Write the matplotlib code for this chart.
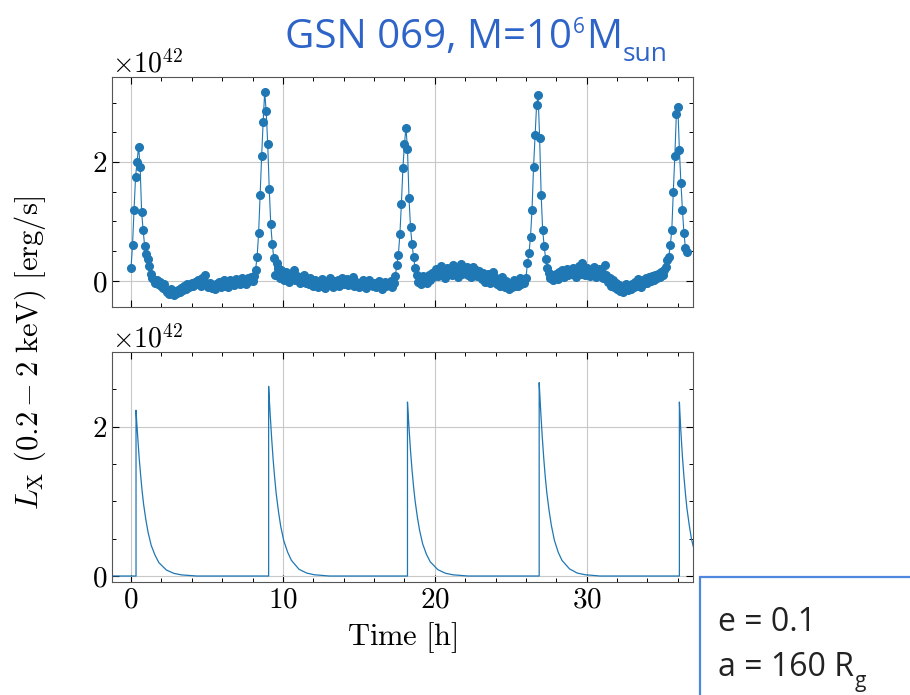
import numpy as np
import matplotlib
matplotlib.use("Agg")
import matplotlib.pyplot as plt
from matplotlib.patches import Rectangle
from matplotlib.ticker import MultipleLocator

plt.rcParams['font.family'] = 'serif'
plt.rcParams['font.serif'] = ['cmr10', 'DejaVu Serif']
plt.rcParams['mathtext.fontset'] = 'cm'
plt.rcParams['axes.formatter.use_mathtext'] = True
plt.rcParams['axes.unicode_minus'] = False

# observed light curve, 0.1 h cadence starting at t = 0 (units of 1e42 erg/s)
obs_cadence = 0.1
lx_obs = [
    0.22, 0.60, 1.20, 1.75, 2.00, 2.26, 1.92, 1.15, 0.85, 0.58,
    0.45, 0.36, 0.25, 0.11, 0.05, 0.02, -0.03, 0.01, -0.06, -0.02,
    -0.08, -0.12, -0.05, -0.15, -0.18, -0.22, -0.14, -0.20, -0.24, -0.17,
    -0.21, -0.15, -0.19, -0.12, -0.16, -0.08, -0.13, -0.05, -0.10, -0.07,
    -0.03, -0.09, -0.02, -0.06, 0.02, -0.04, -0.08, 0.04, -0.01, 0.10,
    -0.06, -0.10, -0.03, -0.12, -0.07, -0.14, -0.05, -0.09, -0.02, -0.11,
    -0.04, 0.01, -0.08, -0.03, -0.10, 0.02, -0.06, -0.01, -0.07, 0.03,
    -0.04, 0.00, -0.06, 0.05, -0.02, 0.02, -0.05, 0.04, -0.01, 0.06,
    0.00, 0.08, 0.19, 0.40, 0.80, 1.45, 2.10, 2.68, 3.18, 2.85,
    2.30, 1.55, 0.95, 0.62, 0.38, 0.10, 0.30, 0.22, 0.05, 0.18,
    0.12, 0.02, 0.15, 0.06, -0.02, 0.10, 0.04, 0.19, 0.01, 0.08,
    0.03, -0.04, 0.06, 0.00, 0.09, -0.03, 0.02, -0.06, 0.05, -0.02,
    -0.08, 0.01, -0.05, -0.11, -0.03, -0.09, 0.03, -0.06, -0.12, -0.02,
    -0.07, 0.04, -0.04, -0.10, 0.00, -0.06, 0.02, -0.08, -0.03, 0.05,
    -0.05, -0.01, 0.03, -0.07, 0.00, -0.04, 0.06, -0.09, -0.02, -0.06,
    -0.10, -0.03, -0.08, 0.01, -0.05, -0.12, -0.04, 0.02, -0.07, -0.09,
    -0.03, -0.11, -0.06, -0.01, -0.08, -0.13, -0.05, -0.02, -0.09, -0.04,
    -0.07, 0.00, -0.10, -0.04, 0.08, 0.27, 0.44, 0.78, 1.30, 1.90,
    2.30, 2.58, 2.22, 1.40, 0.90, 0.62, 0.40, 0.22, 0.10, -0.02,
    0.04, -0.05, 0.08, 0.00, 0.05, -0.03, 0.10, 0.02, 0.14, 0.06,
    0.12, 0.20, 0.08, 0.16, 0.25, 0.10, 0.18, 0.05, 0.22, 0.13,
    0.19, 0.09, 0.26, 0.14, 0.21, 0.07, 0.17, 0.28, 0.12, 0.20,
    0.15, 0.23, 0.10, 0.18, 0.06, 0.24, 0.13, 0.19, 0.08, 0.16,
    0.11, 0.03, 0.14, -0.02, 0.07, 0.12, -0.04, 0.05, 0.15, -0.01,
    0.04, -0.06, 0.02, -0.09, 0.06, -0.03, -0.11, 0.00, -0.07, -0.13,
    -0.05, -0.10, 0.02, -0.08, -0.03, -0.09, 0.04, -0.06, 0.01, -0.04,
    0.05, 0.30, 0.47, 0.74, 1.20, 1.92, 2.45, 2.96, 3.12, 2.40,
    1.45, 0.85, 0.58, 0.36, 0.22, 0.14, 0.05, 0.10, 0.02, 0.08,
    0.12, 0.03, 0.15, 0.08, 0.18, 0.06, 0.13, 0.20, 0.09, 0.16,
    0.11, 0.22, 0.14, 0.07, 0.19, 0.25, 0.12, 0.30, 0.17, 0.10,
    0.21, 0.14, 0.08, 0.18, 0.11, 0.24, 0.06, 0.15, 0.20, 0.09,
    0.13, 0.04, 0.27, 0.10, -0.02, 0.05, -0.08, 0.02, -0.11, -0.04,
    -0.13, -0.07, -0.17, -0.10, -0.19, -0.12, -0.05, -0.15, -0.09, -0.14,
    -0.06, -0.11, -0.02, -0.08, 0.03, -0.05, -0.10, 0.01, -0.04, 0.05,
    -0.03, 0.06, -0.01, 0.08, 0.02, 0.10, 0.04, 0.12, 0.07, 0.15,
    0.10, 0.18, 0.24, 0.35, 0.40, 0.60, 0.85, 1.50, 2.10, 2.80,
    2.92, 2.20, 1.65, 1.20, 0.80, 0.55, 0.49,
]
time_obs = np.arange(len(lx_obs)) * obs_cadence

# model flares: onset time [h] and decay profile
flare_onsets = [0.33, 9.06, 18.2, 26.87, 36.1]
decay_dt = [0, 0.05, 0.1, 0.2, 0.3, 0.4, 0.5, 0.65, 0.8, 1.0, 1.25, 1.5, 2.0, 2.5, 3.0, 4.0]
flare_decays = [
    [2.22, 2.05, 1.90, 1.60, 1.36, 1.14, 0.96, 0.75, 0.58, 0.41, 0.28, 0.18, 0.08, 0.035, 0.015, 0.0],
    [2.54, 2.35, 2.17, 1.84, 1.55, 1.31, 1.10, 0.86, 0.66, 0.47, 0.32, 0.21, 0.09, 0.04, 0.017, 0.0],
    [2.33, 2.15, 1.99, 1.68, 1.42, 1.20, 1.01, 0.79, 0.61, 0.43, 0.29, 0.19, 0.085, 0.037, 0.016, 0.0],
    [2.59, 2.40, 2.21, 1.87, 1.58, 1.33, 1.12, 0.88, 0.68, 0.48, 0.32, 0.21, 0.095, 0.04, 0.018, 0.0],
    [2.33, 2.12, 1.93, 1.60, 1.33, 1.10, 0.90, 0.68, 0.49, 0.33],
]

model_t = [-3.0]
model_l = [0.0]
for t0, vals in zip(flare_onsets, flare_decays):
    model_t.append(t0)
    model_l.append(0.0)
    for dt, v in zip(decay_dt, vals):
        model_t.append(t0 + dt)
        model_l.append(v)
model_t = np.array(model_t)
model_l = np.array(model_l)

blue = '#1f77b4'
W, H = 910, 695

fig = plt.figure(figsize=(W / 100, H / 100), dpi=100)
ax1 = fig.add_axes([0.1231, 0.5583, 0.6385, 0.3309])
ax2 = fig.add_axes([0.1231, 0.1626, 0.6385, 0.3309], sharex=ax1)

ax1.plot(time_obs, np.array(lx_obs) * 1e42, '-o', color=blue, ms=5.5, lw=0.8)
ax2.plot(model_t, model_l * 1e42, '-', color=blue, lw=0.9)

ax1.set_ylim(-0.44e42, 3.43e42)
ax2.set_ylim(-0.08e42, 3.0e42)
ax1.set_xlim(-1.25, 37.0)

for ax in (ax1, ax2):
    ax.xaxis.set_major_locator(MultipleLocator(10))
    ax.xaxis.set_minor_locator(MultipleLocator(2))
    ax.yaxis.set_major_locator(MultipleLocator(2e42))
    ax.yaxis.set_minor_locator(MultipleLocator(0.5e42))
    ax.tick_params(which='both', direction='in', top=True, right=True, labelsize=21)
    ax.tick_params(which='major', length=5, width=0.8)
    ax.tick_params(which='minor', length=3, width=0.7)
    ax.grid(True, which='major', color='#c8c8c8', lw=0.8)
    ax.yaxis.get_offset_text().set_fontsize(20)
    for sp in ax.spines.values():
        sp.set_color('#555555')
        sp.set_linewidth(0.8)

ax1.tick_params(labelbottom=False)
ax2.set_xlabel(r'${\rm Time\ [h]}$', fontsize=22, labelpad=5)

fig.text(0.033, 0.492, r'$L_{\rm X}\ (0.2-2\ {\rm keV})\ [{\rm erg/s}]$',
         rotation=90, ha='center', va='center', fontsize=22)

# title built from pieces so that the sans font keeps its super/subscripts
title_color = '#2e64c8'
renderer = fig.canvas.get_renderer()
base = 0.931 * H


def put(x_px, y_px, s, size):
    t = fig.text(x_px / W, y_px / H, s, fontsize=size, ha='left', va='baseline',
                 family='Open Sans', color=title_color)
    return t.get_window_extent(renderer).x1


x = put(285, base, 'GSN 069, M=10', 29)
x = put(x + 1, base + 15, '6', 15)
x = put(x + 1, base, 'M', 29)
put(x + 1, base - 13, 'sun', 19)

# parameter box at lower right
fig.add_artist(Rectangle((0.7695, -0.05), 0.3, 0.2197, transform=fig.transFigure,
                         fill=False, edgecolor='#4f86e0', lw=1.6, clip_on=False))
bf = dict(family='Open Sans', color='#222222', fontsize=23)
fig.text(0.789, 0.105, 'e = 0.1', ha='left', va='center', **bf)
ta = fig.text(0.789, 0.040, 'a = 160 R', ha='left', va='center', **bf)
xg = ta.get_window_extent(renderer).x1
fig.text((xg + 1) / W, (0.040 * H - 20) / H, 'g', ha='left', va='baseline',
         family='Open Sans', color='#222222', fontsize=15)

fig.savefig('out.png', dpi=100)
